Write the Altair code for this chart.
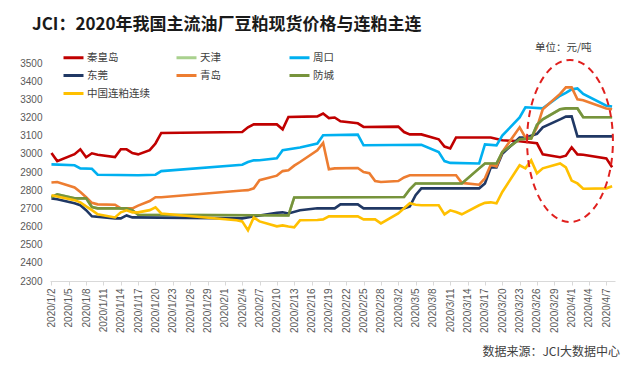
import altair as alt
import pandas as pd

TITLE = "JCI：2020年我国主流油厂豆粕现货价格与连粕主连"
UNIT = "单位：元/吨"
SOURCE = "数据来源：JCI大数据中心"

SERIES = ["秦皇岛", "天津", "周口", "东莞", "青岛", "防城", "中国连粕连续"]
COLORS = ["#C00000", "#A9D18E", "#00B0F0", "#203864", "#ED7D31", "#77933C", "#FFC000"]

QHD_DATES = ["1/2","1/3","1/6","1/7","1/8","1/9","1/10","1/13","1/14","1/15",
             "1/16","1/17","1/19","1/20","1/21","2/4","2/5","2/6","2/10","2/11",
             "2/12","2/17","2/18","2/19","2/20","2/21","2/24","2/25","3/2","3/3",
             "3/4","3/6","3/9","3/10","3/11","3/12","3/18","3/20","3/23","3/26",
             "3/27","3/30","3/31","4/1","4/2","4/3","4/7","4/8"]
QHD_VALS = [3004,2960,2998,3025,2981,3003,2995,2982,3025,3025,
            3004,2997,3020,3057,3115,3120,3146,3162,3162,3135,
            3203,3206,3222,3197,3200,3179,3168,3148,3150,3120,
            3107,3107,3080,3040,3030,3090,3090,3075,3069,3058,
            2997,2981,2990,3036,2997,2995,2975,2926]

TJ_DATES = ["1/2","1/3","1/6","1/8","1/9","1/10","1/15","1/16","1/17","2/12",
            "2/13","3/3","3/4","3/5","3/13","3/16","3/17","3/19","3/20","3/23",
            "3/25","3/26","3/27","3/30","3/31","4/2","4/3","4/8"]
TJ_VALS = [2761,2777,2755,2755,2707,2700,2700,2690,2665,2661,
           2760,2762,2805,2837,2837,2920,2947,2947,3010,3080,
           3085,3160,3190,3245,3250,3250,3201,3201]

ZK_DATES = ["1/2","1/6","1/7","1/9","1/10","1/17","1/20","1/21","2/4","2/5",
            "2/6","2/7","2/10","2/11","2/14","2/17","2/18","2/24","2/25","3/6",
            "3/9","3/10","3/11","3/16","3/17","3/19","3/20","3/23","3/24","3/27",
            "3/30","3/31","4/1","4/2","4/3","4/7","4/8"]
ZK_VALS = [2942,2937,2920,2918,2885,2882,2885,2905,2940,2955,
           2964,2965,2975,3020,3035,3057,3102,3106,3047,3050,
           3010,2960,2950,2947,3052,3047,3100,3200,3256,3250,
           3320,3335,3355,3360,3330,3265,3261]

DG_DATES = ["1/2","1/3","1/6","1/7","1/8","1/9","1/13","1/14","1/15","1/16",
            "2/4","2/7","2/10","2/11","2/12","2/14","2/17","2/20","2/21","2/24",
            "2/25","3/3","3/4","3/5","3/6","3/16","3/17","3/18","3/19","3/20",
            "3/23","3/24","3/25","3/26","3/27","3/30","3/31","4/1","4/2","4/8"]
DG_VALS = [2755,2750,2728,2717,2690,2656,2645,2645,2661,2650,
           2645,2661,2676,2678,2672,2689,2700,2700,2722,2722,
           2700,2700,2711,2772,2810,2810,2837,2925,2925,3000,
           3090,3090,3100,3110,3146,3190,3205,3206,3096,3096]

QD_DATES = ["1/2","1/3","1/6","1/7","1/8","1/9","1/10","1/13","1/14","1/16",
            "1/17","1/19","1/20","1/21","2/4","2/5","2/6","2/7","2/10","2/11",
            "2/12","2/13","2/14","2/17","2/18","2/19","2/20","2/24","2/25","2/26",
            "2/27","2/28","3/2","3/3","3/4","3/12","3/13","3/16","3/17","3/18",
            "3/19","3/20","3/23","3/24","3/25","3/26","3/27","3/30","3/31","4/1",
            "4/2","4/3","4/7","4/8"]
QD_VALS = [2842,2845,2815,2790,2761,2730,2722,2720,2700,2700,
           2715,2740,2761,2761,2798,2800,2810,2855,2880,2905,
           2910,2935,2955,3020,3060,2915,2920,2922,2900,2893,
           2850,2845,2850,2870,2882,2882,2840,2830,2865,2940,
           2931,3010,3146,3090,3085,3146,3245,3330,3366,3366,
           3300,3295,3250,3245]

FC_DATES = ["1/2","1/3","1/6","1/8","1/9","1/10","1/15","1/16","1/17","2/12",
            "2/13","3/3","3/4","3/5","3/13","3/16","3/17","3/19","3/20","3/23",
            "3/25","3/26","3/27","3/30","3/31","4/2","4/3","4/8"]
FC_VALS = [2761,2777,2755,2755,2707,2700,2700,2690,2665,2661,
           2760,2762,2805,2837,2837,2920,2947,2947,3010,3080,
           3085,3160,3190,3245,3250,3250,3201,3201]

LP_DATES = ["1/2","1/3","1/6","1/7","1/8","1/9","1/10","1/13","1/14","1/15",
            "1/16","1/17","1/19","1/20","1/21","2/3","2/4","2/5","2/6","2/7",
            "2/10","2/11","2/12","2/13","2/14","2/17","2/18","2/19","2/24","2/25",
            "2/27","2/28","3/2","3/3","3/4","3/5","3/6","3/9","3/10","3/11",
            "3/12","3/13","3/16","3/17","3/18","3/19","3/20","3/23","3/24","3/25",
            "3/26","3/27","3/30","3/31","4/1","4/2","4/3","4/7","4/8"]
LP_VALS = [2772,2765,2745,2733,2711,2690,2667,2650,2678,2689,
           2678,2678,2690,2706,2672,2634,2628,2579,2650,2628,
           2601,2606,2600,2595,2634,2636,2639,2656,2656,2639,
           2639,2617,2672,2700,2728,2720,2717,2717,2667,2689,
           2680,2667,2717,2730,2733,2728,2790,2937,2920,2964,
           2893,2920,2947,2925,2853,2837,2808,2810,2821]

Y_TICKS = [2300, 2400, 2500, 2600, 2700, 2800, 2900, 3000, 3100, 3200, 3300, 3400, 3500]

FONT_CJK = "Noto Sans CJK SC"
FONT_NUM = "Liberation Sans"

# ---- build the long table in Excel drawing order ----
series_data = [
    ("秦皇岛", QHD_DATES, QHD_VALS),
    ("天津", TJ_DATES, TJ_VALS),
    ("周口", ZK_DATES, ZK_VALS),
    ("东莞", DG_DATES, DG_VALS),
    ("青岛", QD_DATES, QD_VALS),
    ("防城", FC_DATES, FC_VALS),
    ("中国连粕连续", LP_DATES, LP_VALS),
]
rows = []
for name, ds, vs in series_data:
    for d, v in zip(ds, vs):
        m, dd = d.split("/")
        rows.append({"series": name, "date": pd.Timestamp(2020, int(m), int(dd)), "value": v})
df = pd.DataFrame(rows)

tick_days = pd.date_range("2020-01-02", "2020-04-07", freq="3D")
X_TICKS = [alt.DateTime(year=t.year, month=t.month, date=t.day) for t in tick_days]

x_enc = alt.X(
    "date:T",
    title=None,
    scale=alt.Scale(domain=[alt.DateTime(year=2020, month=1, date=1, hours=18),
                            alt.DateTime(year=2020, month=4, date=8, hours=12)]),
    axis=alt.Axis(values=X_TICKS, format="%Y/%-m/%-d", labelAngle=270, labelOverlap=False,
                  labelFont=FONT_NUM, labelFontSize=10, labelColor="#595959",
                  domainColor="#D9D9D9", tickColor="#D9D9D9", tickSize=4,
                  labelPadding=3, grid=False),
)
y_enc = alt.Y(
    "value:Q",
    title=None,
    scale=alt.Scale(domain=[2300, 3500], nice=False, zero=False),
    axis=alt.Axis(values=Y_TICKS, format="d", labelFont=FONT_NUM, labelFontSize=10,
                  labelColor="#595959", domain=False, ticks=False, tickSize=0,
                  labelPadding=8, grid=False),
)

lines = alt.Chart(df).mark_line(strokeWidth=2.6).encode(
    x=x_enc,
    y=y_enc,
    color=alt.Color(
        "series:N",
        scale=alt.Scale(domain=SERIES, range=COLORS),
        sort=SERIES,
        legend=alt.Legend(
            title=None, orient="none", legendX=12, legendY=-17, columns=3,
            direction="horizontal",
            gridAlign="all", columnPadding=20, rowPadding=-10,
            symbolType="stroke", symbolSize=400, symbolStrokeWidth=3,
            labelFont=FONT_CJK, labelFontSize=10.5, labelColor="#404040",
            labelOffset=2, labelLimit=200, padding=0,
        ),
    ),
)

ellipse = alt.Chart(pd.DataFrame({"k": [0]})).mark_point(
    shape="M -0.53 0 A 0.53 1 0 1 1 0.53 0 A 0.53 1 0 1 1 -0.53 0 Z",
    filled=False, stroke="#E0201E", strokeWidth=2, strokeDash=[7, 5],
    size=26244, opacity=1,
).encode(x=alt.value(520), y=alt.value(78))

title_txt = alt.Chart(pd.DataFrame({"t": [TITLE]})).mark_text(
    align="left", baseline="middle", font=FONT_CJK, fontSize=17, fontWeight="bold", color="#1a1a1a"
).encode(text="t:N", x=alt.value(-18), y=alt.value(-38))

unit_txt = alt.Chart(pd.DataFrame({"t": [UNIT]})).mark_text(
    align="left", baseline="middle", font=FONT_CJK, fontSize=10.5, color="#404040"
).encode(text="t:N", x=alt.value(485), y=alt.value(-15))

src_txt = alt.Chart(pd.DataFrame({"t": [SOURCE]})).mark_text(
    align="right", baseline="middle", font=FONT_CJK, fontSize=12, color="#404040"
).encode(text="t:N", x=alt.value(570), y=alt.value(289))

chart = alt.layer(lines, ellipse, title_txt, unit_txt, src_txt).properties(
    width=565, height=218,
    autosize=alt.AutoSizeParams(type="none"),
    padding={"left": 42, "top": 55, "right": 17, "bottom": 80},
    background="white",
).configure_view(stroke=None)

chart.save("out.html", embed_options={"renderer": "svg", "actions": False})
